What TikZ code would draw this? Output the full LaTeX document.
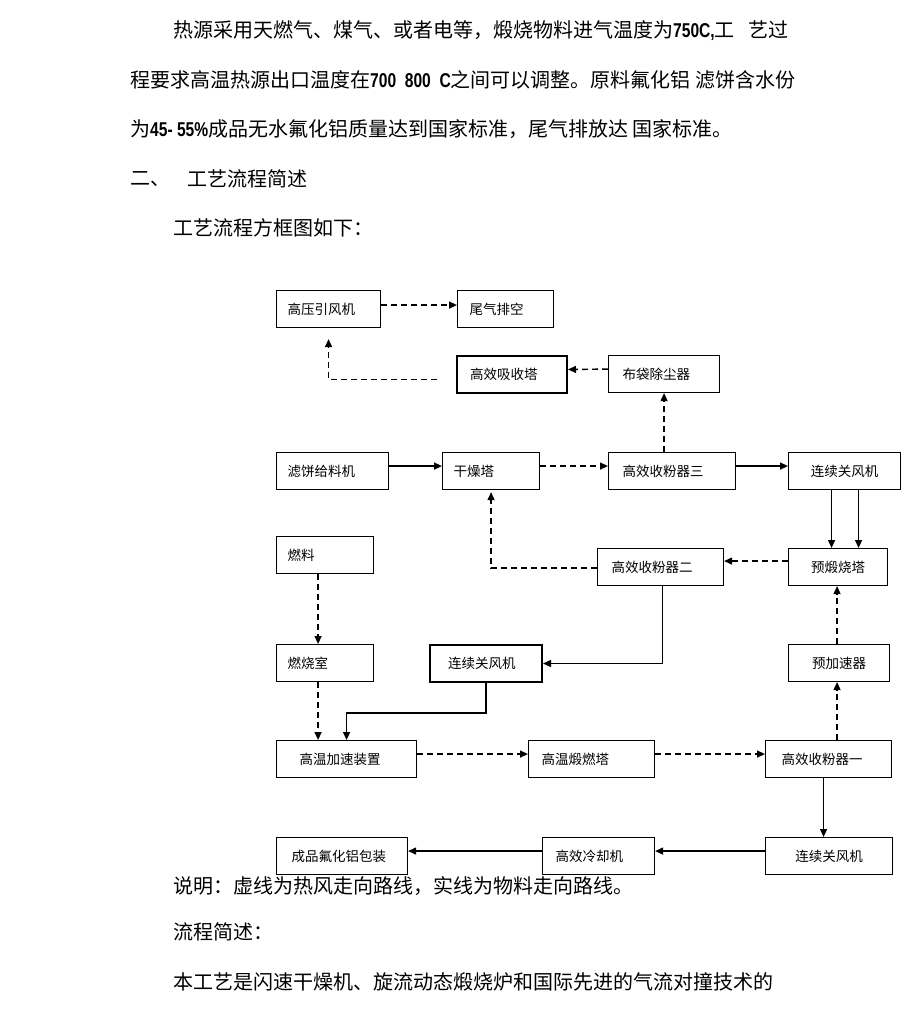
\documentclass[tikz,border=0pt]{standalone}
\usepackage{fontspec}
\setmainfont{Noto Sans CJK SC}
\newfontfamily\numfont[FakeStretch=0.78]{Liberation Sans}
\usetikzlibrary{arrows.meta}
\newcommand\nm[1]{{\numfont\bfseries #1}}
\tikzset{
  para/.style={anchor=west, inner sep=0pt, font=\fontsize{20}{24}\selectfont},
  box/.style={draw, line width=1.1pt, minimum height=37pt, anchor=north west, inner ysep=0pt, font=\fontsize{13.5}{15}\selectfont},
  thickbox/.style={box, line width=2pt},
  lbox/.style={align=left},
  cbox/.style={inner xsep=0pt, align=center},
  flow/.style={line width=1.4pt, -{Triangle[length=8pt,width=7pt]}},
  hot/.style={flow, dash pattern=on 6pt off 4pt},
}
\begin{document}
\begin{tikzpicture}[x=1pt,y=-1pt]
\useasboundingbox[fill=white] (0,0) rectangle (920,1017);

% text above
\node[para] (t1) at (173,31) {热源采用天燃气、煤气、或者电等，煅烧物料进气温度为\nm{750C,}工\hspace{14pt}艺过};
\node[para] (t2) at (130,80) {程要求高温热源出口温度在\nm{700\ \ 800\ \ C}之间可以调整。原料氟化铝 滤饼含水份};
\node[para] (t3) at (130,129) {为\nm{45-\ 55\%}成品无水氟化铝质量达到国家标准，尾气排放达 国家标准。};
\node[para] (t4a) at (130,179) {二、};
\node[para] (t4b) at (187,179) {工艺流程简述};
\node[para] (t5) at (173,228) {工艺流程方框图如下：};

% boxes
\node[box, lbox, text width=82pt, inner xsep=11pt] (hp) at (276,290) {高压引风机};
\node[box, lbox, text width=72pt, inner xsep=12pt] (wq) at (457,290) {尾气排空};
\node[thickbox, lbox, text width=84pt, inner xsep=13pt] (xs) at (456,355) {高效吸收塔};
\node[box, lbox, text width=83pt, inner xsep=14pt] (bd) at (608,355) {布袋除尘器};

\node[box, lbox, text width=90pt, inner xsep=11pt] (lb) at (276,452) {滤饼给料机};
\node[box, lbox, text width=75pt, inner xsep=11pt] (gz) at (442,452) {干燥塔};
\node[box, lbox, text width=99pt, inner xsep=14pt] (s3) at (608,452) {高效收粉器三};
\node[box, cbox, minimum width=112pt] (gf1) at (788,452) {连续关风机};

\node[box, lbox, text width=75pt, inner xsep=11pt] (rl) at (276,536) {燃料};
\node[box, lbox, text width=98pt, inner xsep=14pt] (s2) at (597,548) {高效收粉器二};
\node[box, cbox, minimum width=99pt] (yd) at (788,548) {预煅烧塔};

\node[box, lbox, text width=75pt, inner xsep=11pt] (rs) at (276,644) {燃烧室};
\node[thickbox, lbox, text width=76pt, inner xsep=18pt] (gf2) at (429,644) {连续关风机};
\node[box, cbox, minimum width=101pt] (yj) at (788,644) {预加速器};

\node[box, lbox, text width=94pt, inner xsep=23pt] (gw) at (276,740) {高温加速装置};
\node[box, lbox, text width=100pt, inner xsep=13pt] (gd) at (528,740) {高温煅燃塔};
\node[box, lbox, text width=94pt, inner xsep=16pt] (s1) at (765,740) {高效收粉器一};

\node[box, lbox, text width=101pt, inner xsep=15pt] (cp) at (276,837) {成品氟化铝包装};
\node[box, lbox, text width=86pt, inner xsep=13pt] (lq) at (542,837) {高效冷却机};
\node[box, cbox, minimum width=127pt] (gf3) at (765,837) {连续关风机};

% connectors
\draw[hot] ([yshift=4pt]hp.east) -- ([yshift=4pt]wq.west);
\draw[hot] ([yshift=5pt]bd.west) -- ([yshift=5pt]xs.east);
\draw[hot] ([xshift=-19pt,yshift=-5pt]xs.west) -| ([yshift=-11pt]hp.south);
\draw[hot] (bd.south |- s3.north) -- (bd.south);

\draw[flow] ([yshift=5pt]lb.east) -- ([yshift=5pt]gz.west);
\draw[hot] ([yshift=5pt]gz.east) -- ([yshift=5pt]s3.west);
\draw[flow] ([yshift=5pt]s3.east) -- ([yshift=5pt]gf1.west);
\draw[flow] ([xshift=-13pt]gf1.south) -- ([xshift=-13pt]gf1.south |- yd.north);
\draw[flow] ([xshift=14pt]gf1.south) -- ([xshift=14pt]gf1.south |- yd.north);

\draw[hot] ([yshift=6pt]yd.west) -- ([yshift=6pt]s2.east);
\draw[hot] ([yshift=-1pt]s2.west) -| ([yshift=-2pt]gz.south);
\draw[hot] ([xshift=-7pt]rl.south) -- ([xshift=-7pt]rl.south |- rs.north);
\draw[flow] ([xshift=2pt]s2.south) |- (gf2.east);

\draw[hot] ([xshift=-7pt]rs.south) -- ([xshift=-7pt]rs.south |- gw.north);
\draw[flow] (gf2.south) -- ++(0,30) -| (gw.north);
\draw[hot] ([yshift=5pt]gw.east) -- ([yshift=5pt]gd.west);
\draw[hot] ([yshift=5pt]gd.east) -- ([yshift=5pt]s1.west);
\draw[hot] ([xshift=-2pt]yj.south |- s1.north) -- ([xshift=-2pt]yj.south);
\draw[hot] ([xshift=-2pt]yj.north) -- ([xshift=-2pt]yj.north |- yd.south);
\draw[flow] ([xshift=-5pt]s1.south) -- ([xshift=-5pt]s1.south |- gf3.north);
\draw[flow] ([yshift=5pt]gf3.west) -- ([yshift=5pt]lq.east);
\draw[flow] ([yshift=5pt]lq.west) -- ([yshift=5pt]cp.east);

% text below
\node[para] (b1) at (173,886) {说明：虚线为热风走向路线，实线为物料走向路线。};
\node[para] (b2) at (173,932) {流程简述：};
\node[para] (b3) at (173,982) {本工艺是闪速干燥机、旋流动态煅烧炉和国际先进的气流对撞技术的};
\end{tikzpicture}
\end{document}
